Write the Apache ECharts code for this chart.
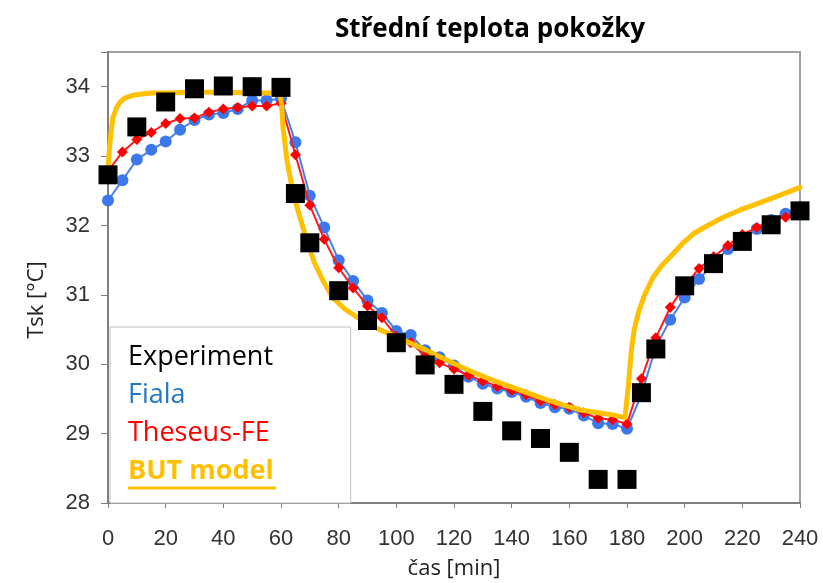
<!DOCTYPE html>
<html>
<head>
<meta charset="utf-8">
<script src="https://cdn.jsdelivr.net/npm/echarts@6/dist/echarts.min.js"></script>
<style>
html,body{margin:0;padding:0;background:#fff;}
#chart{width:823px;height:583px;}
</style>
</head>
<body>
<div id="chart"></div>
<script>
// ---- data ----
const titleText = 'Střední teplota pokožky';
const xName = 'čas [min]';
const yName = 'Tsk [°C]';
const seriesNames = ['Experiment', 'Fiala', 'Theseus-FE', 'BUT model'];

const expTimes = [0,10,20,30,40,50,60,65,70,80,90,100,110,120,130,140,150,160,170,180,185,190,200,210,220,230,240];
const expValues = [32.73,33.42,33.78,33.97,34.01,34.0,33.99,32.46,31.75,31.06,30.63,30.31,29.99,29.71,29.32,29.04,28.93,28.73,28.34,28.34,29.59,30.22,31.13,31.45,31.77,32.01,32.21];

const modelTimes = [0,5,10,15,20,25,30,35,40,45,50,55,60,65,70,75,80,85,90,95,100,105,110,115,120,125,130,135,140,145,150,155,160,165,170,175,180,185,190,195,200,205,210,215,220,225,230,235,240];
const fialaValues = [32.36,32.65,32.95,33.09,33.21,33.38,33.52,33.6,33.62,33.68,33.8,33.8,33.83,33.2,32.43,31.97,31.5,31.2,30.92,30.74,30.48,30.42,30.2,30.1,29.98,29.82,29.72,29.65,29.6,29.53,29.44,29.38,29.36,29.26,29.15,29.14,29.07,29.56,30.25,30.64,30.96,31.23,31.45,31.66,31.82,31.95,32.08,32.17,32.22];
const theseusValues = [32.78,33.06,33.24,33.34,33.47,33.54,33.55,33.63,33.68,33.7,33.72,33.72,33.76,33.02,32.29,31.8,31.39,31.1,30.84,30.67,30.4,30.31,30.12,30.02,29.93,29.84,29.76,29.68,29.62,29.56,29.47,29.42,29.38,29.3,29.22,29.2,29.14,29.79,30.38,30.82,31.13,31.38,31.55,31.71,31.87,31.97,32.07,32.12,32.2];

const butTimes = [0,0.5,1,1.7,3,4.2,6,9,15,20,30,40,50,58,59.7,60.3,60.7,62.1,64.2,67.6,71.5,75,78,82,87,92,98,104,110,116,122,128,134,140,146,152,158,164,170,175,179.3,180.5,181.5,182.5,184,186,189,192,195,199,203,208,213,219,225,232,240];
const butValues = [32.8,33.12,33.33,33.55,33.7,33.78,33.84,33.88,33.91,33.91,33.92,33.92,33.91,33.91,33.9,33.7,33.41,32.93,32.46,31.97,31.47,31.17,30.96,30.8,30.66,30.54,30.43,30.32,30.21,30.09,29.97,29.86,29.76,29.67,29.58,29.49,29.41,29.34,29.3,29.27,29.23,29.7,30.2,30.5,30.75,30.99,31.25,31.42,31.55,31.73,31.88,32.0,32.11,32.22,32.31,32.42,32.55];

const xTicks = {min: 0, max: 240, interval: 20};
const yTicks = {min: 28, max: 34.5, interval: 1};

// ---- build ----
const zip = (xs, ys) => xs.map((x, i) => [x, ys[i]]);
const chart = echarts.init(document.getElementById('chart'), null, {renderer: 'canvas'});
const labelFont = 'Liberation Sans, Arial, sans-serif';
const textFont = 'Open Sans, Noto Sans, sans-serif';

const option = {
  backgroundColor: '#ffffff',
  animation: false,
  grid: {left: 108, right: 23, top: 52, bottom: 80, containLabel: false, outerBoundsMode: 'none',
    show: true, borderColor: '#a0a0a0', borderWidth: 2, backgroundColor: 'transparent'},
  xAxis: {
    type: 'value', min: xTicks.min, max: xTicks.max, interval: xTicks.interval,
    name: xName, nameLocation: 'middle', nameGap: 55,
    nameTextStyle: {fontFamily: textFont, fontSize: 22, color: '#222'},
    axisLine: {show: true, lineStyle: {color: '#808080', width: 2}},
    axisTick: {show: true, length: 5, lineStyle: {color: '#808080', width: 1}},
    axisLabel: {fontFamily: labelFont, fontSize: 22, color: '#333', margin: 25},
    splitLine: {show: false}
  },
  yAxis: {
    type: 'value', min: yTicks.min, max: yTicks.max, interval: yTicks.interval,
    axisLine: {show: true, lineStyle: {color: '#808080', width: 2}},
    axisTick: {show: true, length: 7, lineStyle: {color: '#808080', width: 1}},
    axisLabel: {fontFamily: labelFont, fontSize: 22, color: '#333', margin: 18,
      formatter: v => (Math.abs(v - Math.round(v)) < 1e-6 ? String(Math.round(v)) : '')},
    splitLine: {show: false}
  },
  legend: {
    orient: 'vertical', left: 110, top: 327,
    icon: 'none', itemWidth: 0, itemHeight: 0, itemGap: 8,
    padding: [15, 77, 17, 13],
    backgroundColor: '#ffffff', borderColor: '#c0c0c0', borderWidth: 1,
    selectedMode: false,
    textStyle: {fontFamily: textFont, fontSize: 27, lineHeight: 30},
    data: [
      {name: seriesNames[0], textStyle: {color: '#000000'}},
      {name: seriesNames[1], textStyle: {color: '#1f76c6'}},
      {name: seriesNames[2], textStyle: {color: '#ff0000'}},
      {name: seriesNames[3], textStyle: {color: '#ffc000', fontWeight: 'bold'}}
    ]
  },
  series: [
    {
      name: seriesNames[1], type: 'line', data: zip(modelTimes, fialaValues), z: 2,
      symbol: 'circle', symbolSize: 12, showAllSymbol: true,
      lineStyle: {color: '#4a80e8', width: 2},
      itemStyle: {color: '#3b78ec'}
    },
    {
      name: seriesNames[2], type: 'line', data: zip(modelTimes, theseusValues), z: 3,
      symbol: 'diamond', symbolSize: 11, showAllSymbol: true,
      lineStyle: {color: '#ff1a1a', width: 2},
      itemStyle: {color: '#ff0000'}
    },
    {
      name: seriesNames[3], type: 'line', data: zip(butTimes, butValues), z: 4,
      symbol: 'none', smooth: false,
      lineStyle: {color: '#ffc000', width: 5, join: 'round', cap: 'round'},
      itemStyle: {color: '#ffc000'}
    },
    {
      name: seriesNames[0], type: 'scatter', data: zip(expTimes, expValues), z: 5,
      symbol: 'rect', symbolSize: 19,
      itemStyle: {color: '#000000', opacity: 1}
    }
  ],
  graphic: [
    {type: 'text', x: 490, y: 30, z: 10,
      style: {text: titleText, fontFamily: textFont, fontSize: 26, fontWeight: 'bold', fill: '#000', align: 'center', verticalAlign: 'middle'}},
    {type: 'text', x: 37, y: 300, rotation: Math.PI / 2, z: 10,
      style: {text: yName, fontFamily: textFont, fontSize: 22, fill: '#222', align: 'center', verticalAlign: 'middle'}},
    {type: 'line', z: 20, shape: {x1: 128, y1: 488, x2: 276, y2: 488},
      style: {stroke: '#ffc000', lineWidth: 3}}
  ]
};
chart.setOption(option);
</script>
</body>
</html>
